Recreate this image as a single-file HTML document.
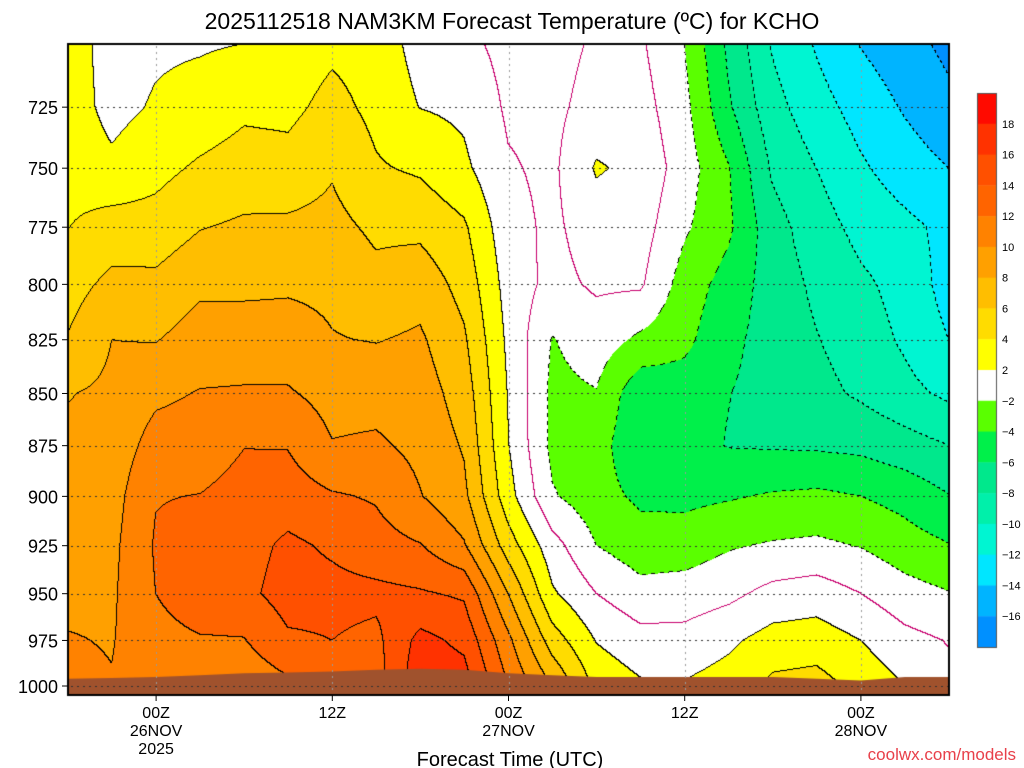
<!DOCTYPE html>
<html><head><meta charset="utf-8"><style>
html,body{margin:0;padding:0;background:#fff;width:1024px;height:768px;overflow:hidden}
#wrap{position:relative;width:1024px;height:768px;font-family:"Liberation Sans",sans-serif}
canvas,svg{position:absolute;left:0;top:0}
</style></head><body>
<div id="wrap">
<canvas id="cv" width="1024" height="768"></canvas>
<svg id="ov" width="1024" height="768"></svg>
</div>
<script>
const hours=[0,3,6,9,12,15,18,21,24,27,30,33,36,39,42,45,48,51,54,57,60];
const levels=[700,725,750,775,800,825,850,875,900,925,950,975,1000];
const xTickLabels=["00Z","12Z","00Z","12Z","00Z"];
const xTickHours=[6,18,30,42,54];
const xDateLabels=["26NOV","","27NOV","","28NOV"];
const yTickLevels=[725,750,775,800,825,850,875,900,925,950,975,1000];
const cbarLabels=[18,16,14,12,10,8,6,4,2,-2,-4,-6,-8,-10,-12,-14,-16];
const temps=[
[3.0,3.0,3.3,3.95,5.2,6.1,7.9,8.4,8.8,9.2,9.6,10.1,10.5],
[1.2,1.4,2.4,4.9,6.5,8.0,8.4,8.8,9.2,9.5,9.7,9.9,10.1],
[1.7,2.2,3.4,4.8,6.5,7.9,9.6,10.8,11.9,12.2,12.0,11.2,10.8],
[1.8,2.76,4.3,5.9,7.6,8.9,10.1,11.0,12.05,13.0,13.4,11.8,10.5],
[2.0,3.6,4.9,6.3,7.6,8.9,10.2,11.95,12.7,13.2,13.5,11.9,10.5],
[2.8,3.5,4.7,6.4,7.7,8.9,10.2,11.9,13.0,14.4,14.8,13.7,11.5],
[3.6,4.6,5.8,6.6,7.6,8.1,9.3,10.1,12.2,13.7,14.6,14.0,12.5],
[3.2,3.5,4.2,5.6,6.6,7.9,9.3,10.3,11.8,12.8,14.5,13.5,13.0],
[1.2,1.95,3.7,5.5,7.2,8.3,9.0,9.5,10.1,12.1,14.2,16.6,17.5],
[0.5,1.6,2.4,4.3,5.3,6.3,7.1,7.8,8.5,10.2,13.7,15.5,17.0],
[-0.6,-0.3,0.2,0.7,1.2,1.6,1.9,2.1,2.8,5.0,8.0,10.5,12.0],
[-0.8,-0.5,-0.4,-0.4,-0.6,-2.1,-2.5,-2.5,-1.8,0.8,2.3,5.0,8.0],
[0.3,0.8,2.2,1.0,0.3,-1.0,-2.1,-3.0,-3.2,-2.0,0.0,1.9,3.5],
[0.3,0.8,1.5,0.9,0.3,-2.4,-5.5,-5.9,-4.4,-3.1,-1.3,0.7,2.3],
[-2.0,-1.4,-1.0,-1.7,-2.9,-3.5,-5.0,-5.2,-4.5,-3.0,-1.1,0.7,2.2],
[-6.4,-5.7,-3.85,-3.6,-4.8,-5.5,-5.95,-6.1,-4.2,-2.2,-0.5,1.6,2.9],
[-10.2,-9.3,-8.3,-7.2,-6.9,-6.8,-6.7,-6.2,-3.8,-1.8,0.6,2.8,4.5],
[-12.2,-11.2,-10.0,-9.1,-8.4,-7.9,-7.4,-6.3,-3.6,-1.6,1.0,3.0,4.8],
[-14.1,-12.8,-11.7,-10.6,-9.6,-9.0,-8.3,-6.5,-4.0,-2.1,0.0,2.0,3.4],
[-15.25,-14.2,-13.0,-11.5,-10.7,-10.3,-9.4,-7.2,-4.7,-3.1,-1.2,0.6,2.0],
[-16.5,-15.5,-14.0,-12.5,-12.8,-12.0,-10.4,-8.0,-5.9,-3.9,-1.9,-0.1,0.5]
];
const sfcPres=[996,995.5,995,994,993,992.5,992,991,990.5,991,993,994,995,995,995,995,995,996,997,995,995];

const PL=68,PR=949,PT=44,PB=695;
const xOf=h=>PL+h*(PR-PL)/60;
const yOf=p=>PT+1800*Math.log(p/700);
const bandColors=["#0090ff","#00b4ff","#00e6ff","#00f5d2","#00f0aa","#00e88c","#00f04a","#5aff00","#ffffff",
"#ffff00","#ffdc00","#ffbe00","#ffa000","#ff8200","#ff6400","#ff5000","#ff3200","#ff0a00"];
function bandIdx(v){
  if(v>=-2&&v<2)return 8;
  if(v>=2){return Math.min(17,9+Math.floor((v-2)/2));}
  return Math.max(0,7-Math.floor((-2-v)/2));
}
function hex(c){return [parseInt(c.substr(1,2),16),parseInt(c.substr(3,2),16),parseInt(c.substr(5,2),16)];}
const rgb=bandColors.map(hex);
function val(px,py){
  const h=(px-PL)/((PR-PL)/60);
  const p=700*Math.exp((py-PT)/1800);
  let ci=Math.max(0,Math.min(hours.length-1.0001,h/3));
  let ri=Math.max(0,Math.min(levels.length-1.0001,(p-700)/25));
  const c0=Math.floor(ci),r0=Math.floor(ri),fx=ci-c0,fy=ri-r0;
  const a=temps[c0][r0],b=temps[c0+1][r0],c=temps[c0][r0+1],d=temps[c0+1][r0+1];
  return (a*(1-fx)+b*fx)*(1-fy)+(c*(1-fx)+d*fx)*fy;
}
const cv=document.getElementById('cv');const ctx=cv.getContext('2d');
const W=PR-PL,H=PB-PT;
const img=ctx.createImageData(W,H);
const V=new Float32Array(W*H);
for(let j=0;j<H;j++)for(let i=0;i<W;i++)V[j*W+i]=val(PL+i+0.5,PT+j+0.5);
for(let j=0;j<H;j++)for(let i=0;i<W;i++){
  const v=V[j*W+i];const k=j*W+i;let col=rgb[bandIdx(v)];
  const kk=Math.floor(v/2);
  let edge=null;
  if(i<W-1){const k2=Math.floor(V[k+1]/2);if(k2!==kk)edge=Math.max(kk,k2)*2;}
  if(edge===null&&j<H-1){const k2=Math.floor(V[k+W]/2);if(k2!==kk)edge=Math.max(kk,k2)*2;}
  if(edge!==null){
    if(edge===0)col=[200,0,110];
    else if(edge<0){if(((i+j)>>2)%2===0)col=[0,0,0];}
    else col=[0,0,0];
  }
  img.data[k*4]=col[0];img.data[k*4+1]=col[1];img.data[k*4+2]=col[2];img.data[k*4+3]=255;
}
ctx.putImageData(img,PL,PT);
// ground
ctx.fillStyle="#a0522d";ctx.beginPath();ctx.moveTo(PL,PB);
for(let i=0;i<hours.length;i++)ctx.lineTo(xOf(hours[i]),yOf(sfcPres[i]));
ctx.lineTo(PR,PB);ctx.closePath();ctx.fill();
// grid
ctx.fillStyle="#333";
levels.slice(1).forEach(p=>{const y=Math.round(yOf(p));for(let x=PL+3;x<PR;x+=6)ctx.fillRect(x,y,2,1);});
ctx.fillStyle="#999";
xTickHours.forEach(h=>{const x=Math.round(xOf(h));for(let y=PT+2;y<PB;y+=6)ctx.fillRect(x,y,1,2);});
// frame
ctx.strokeStyle="#000";ctx.lineWidth=2;ctx.strokeRect(PL,PT,W,H);
// colorbar
const cbX=977,cbT=93,cbH=554,bh=cbH/18;
for(let b=0;b<18;b++){ctx.fillStyle=bandColors[17-b];ctx.fillRect(cbX,cbT+b*bh,19,bh+0.5);}
ctx.strokeStyle="#555";ctx.lineWidth=1;ctx.strokeRect(cbX+0.5,cbT+0.5,19,cbH);

const NS='http://www.w3.org/2000/svg';const ov=document.getElementById('ov');
function txt(x,y,s,size,anchor,fill,name){const t=document.createElementNS(NS,'text');
t.setAttribute('x',x);t.setAttribute('y',y);t.setAttribute('font-size',size);t.setAttribute('text-anchor',anchor);
t.setAttribute('fill',fill);t.setAttribute('font-family','"Liberation Sans",sans-serif');t.textContent=s;


ov.appendChild(t);return t;}
txt(512,29,"2025112518 NAM3KM Forecast Temperature (ºC) for KCHO",23,"middle","#000","chart-title");
yTickLevels.forEach(p=>{const y=yOf(p);
  const l=document.createElementNS(NS,'line');l.setAttribute('x1',PL-6);l.setAttribute('x2',PL);l.setAttribute('y1',y);l.setAttribute('y2',y);l.setAttribute('stroke','#000');
  
  
  ov.appendChild(l);
  txt(58,y+7,String(p),18,"end","#000","y-tick-label");});
xTickHours.forEach((h,i)=>{const x=xOf(h);
  const l=document.createElementNS(NS,'line');l.setAttribute('x1',x);l.setAttribute('x2',x);l.setAttribute('y1',PB);l.setAttribute('y2',PB+6);l.setAttribute('stroke','#000');
  
  
  ov.appendChild(l);
  txt(x,718,xTickLabels[i],16,"middle","#000","x-tick-label");
  if(xDateLabels[i])txt(x,736,xDateLabels[i],16,"middle","#000","x-date-label");});
txt(xOf(6),754,"2025",16,"middle","#000","x-year-label");
txt(510,766,"Forecast Time (UTC)",20,"middle","#000","x-axis-title");
txt(1016,760,"coolwx.com/models",17,"end","#e8404a","source-credit");
cbarLabels.forEach((v,i)=>{const y=cbT+(i+1)*bh;txt(1002,y+4,String(v).replace('-','−'),11,"start","#000","colorbar-label");});
</script>
</body></html>
